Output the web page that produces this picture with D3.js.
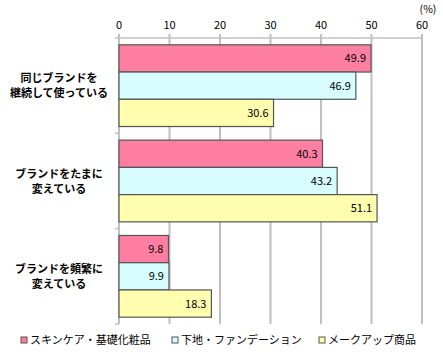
<!DOCTYPE html>
<html><head><meta charset="utf-8">
<script src="https://cdn.jsdelivr.net/npm/d3@7"></script>
<style>body{margin:0;background:#fff}svg{display:block;font-family:"Noto Sans CJK JP","Noto Sans",sans-serif}</style>
</head><body><svg id="c" width="443" height="352"></svg>
<script>
const categories = [["同じブランドを","継続して使っている"],["ブランドをたまに","変えている"],["ブランドを頻繁に","変えている"]];
const seriesNames = ["スキンケア・基礎化粧品","下地・ファンデーション","メークアップ商品"];
const skincare = [49.9, 40.3, 9.8];
const foundation = [46.9, 43.2, 9.9];
const makeup = [30.6, 51.1, 18.3];
const ticks = [0,10,20,30,40,50,60];
const colors = ["#FF7FA3","#D7FDFF","#FFFDAE"];

const series = [skincare, foundation, makeup];
const svg = d3.select("#c");
const x = d3.scaleLinear().domain([0,60]).range([119,422]);
const y = d3.scaleBand().domain(d3.range(categories.length)).range([38,324]);
const inner = d3.scaleBand().domain(d3.range(series.length)).range([0,y.bandwidth()]).paddingOuter(0.25);

// gridlines
svg.append("g").selectAll("line").data(ticks).join("line")
  .attr("x1",d=>x(d)).attr("x2",d=>x(d)).attr("y1",34).attr("y2",324)
  .attr("stroke","#c0c0c0").attr("stroke-width",2);
svg.append("line").attr("x1",x(0)).attr("x2",x(60)).attr("y1",38).attr("y2",38).attr("stroke","#c0c0c0").attr("stroke-width",1.5);
// y tick marks
svg.append("g").selectAll("line").data(d3.range(categories.length+1)).join("line")
  .attr("x1",115).attr("x2",119).attr("y1",d=>38+d*y.step()).attr("y2",d=>38+d*y.step())
  .attr("stroke","#c0c0c0").attr("stroke-width",1.5);
// x tick labels
svg.append("g").selectAll("text").data(ticks).join("text")
  .attr("x",d=>x(d)).attr("y",29).attr("text-anchor","middle").attr("font-size",11).attr("fill","#000").text(d=>d);
svg.append("text").attr("x",428).attr("y",13).attr("text-anchor","middle").attr("font-size",10.5).text("(%)");

// bars
series.forEach((vals,si)=>{
  const g = svg.append("g");
  g.selectAll("rect").data(vals).join("rect")
    .attr("x",x(0)).attr("y",(d,i)=>y(i)+inner(si)).attr("width",d=>x(d)-x(0)).attr("height",inner.bandwidth())
    .attr("fill",colors[si]).attr("stroke","#555").attr("stroke-width",1.2);
  g.selectAll("text").data(vals).join("text")
    .attr("x",d=>x(d)-5).attr("y",(d,i)=>y(i)+inner(si)+inner.bandwidth()/2+4)
    .attr("text-anchor","end").attr("font-size",11).text(d=>d.toFixed(1));
});

// category labels
categories.forEach((lines,i)=>{
  const cy = y(i)+y.bandwidth()/2;
  lines.forEach((l,j)=>svg.append("text").attr("text-anchor","middle").attr("font-size",11).attr("font-weight","bold")
    .attr("x",59).attr("y",cy-7.5+j*15+4).text(l));
});

// legend
const lx = [21,172,319];
seriesNames.forEach((n,i)=>{
  svg.append("rect").attr("x",lx[i]).attr("y",337).attr("width",6).attr("height",6).attr("fill",colors[i]).attr("stroke","#555");
  svg.append("text").attr("x",lx[i]+9).attr("y",344).attr("font-size",11).text(n);
});
</script></body></html>
